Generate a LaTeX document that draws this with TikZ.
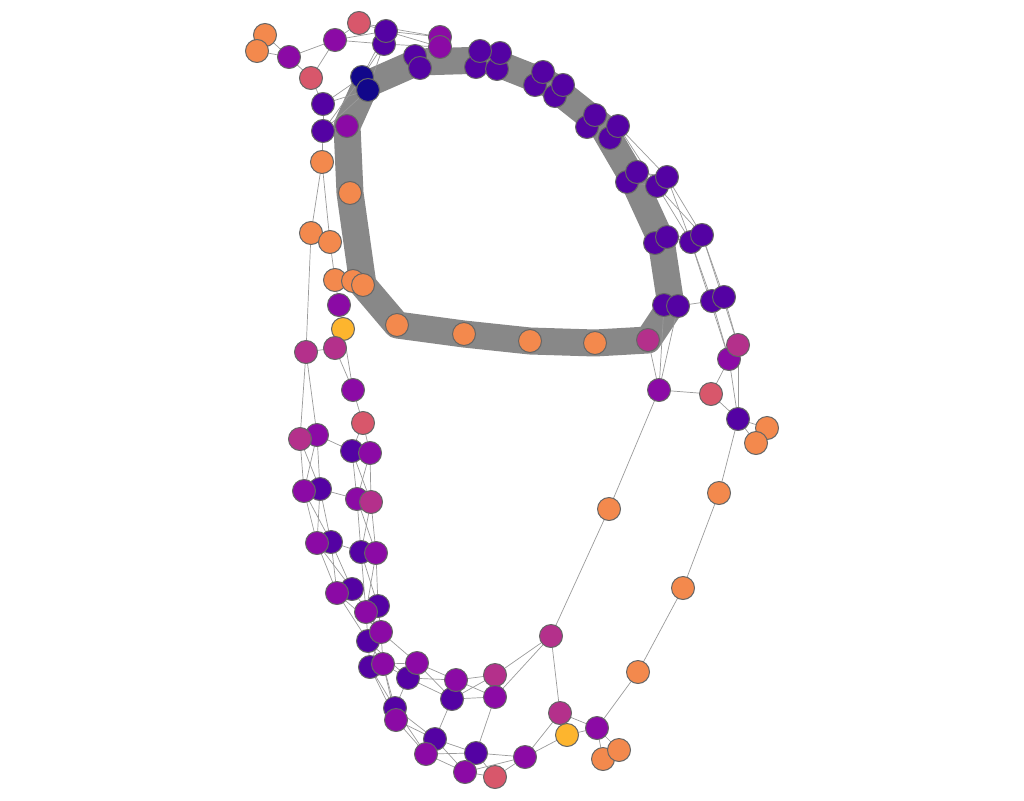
\documentclass[tikz,border=0pt]{standalone}
\usetikzlibrary{calc}
\definecolor{cO}{HTML}{F3894D}
\definecolor{cY}{HTML}{FDB52E}
\definecolor{cM}{HTML}{B4308B}
\definecolor{cR}{HTML}{D8576B}
\definecolor{cP}{HTML}{8B0AA5}
\definecolor{cD}{HTML}{5402A3}
\definecolor{cN}{HTML}{12078A}
\definecolor{rim}{HTML}{666666}
\definecolor{edgecol}{HTML}{9A9A9A}
\definecolor{bandcol}{HTML}{888888}
\tikzset{
  vtx/.style={circle,minimum size=23pt,inner sep=0pt,draw=rim,line width=1pt},
  O/.style={vtx,fill=cO}, Y/.style={vtx,fill=cY}, M/.style={vtx,fill=cM},
  R/.style={vtx,fill=cR}, P/.style={vtx,fill=cP}, D/.style={vtx,fill=cD},
  N/.style={vtx,fill=cN},
  thin edge/.style={draw=edgecol,line width=0.7pt},
  band/.style={draw=bandcol,line width=27pt,line join=round,line cap=round}
}
\begin{document}
\begin{tikzpicture}[x=1pt,y=-1pt]
\useasboundingbox (0,0) rectangle (1024,800);
% ---- coordinates of vertices (placed as nodes later) ----
\begin{scope}[every node/.style={}]
\path
(265,35) coordinate (p1) (257,51) coordinate (p2) (289,57) coordinate (p3)
(335,40) coordinate (p4) (359,23) coordinate (p5) (386,31) coordinate (p6)
(384,44) coordinate (p7) (311,78) coordinate (p8) (362,77) coordinate (p9)
(368,90) coordinate (p10) (323,104) coordinate (p11) (323,131) coordinate (p12)
(347,126) coordinate (p13) (322,162) coordinate (p14) (350,193) coordinate (p15)
(415,56) coordinate (p16) (420,68) coordinate (p17) (440,37) coordinate (p18)
(440,47) coordinate (p19) (480,51) coordinate (p20) (500,53) coordinate (p21)
(476,67) coordinate (p22) (497,69) coordinate (p23) (543,72) coordinate (p24)
(535,85) coordinate (p25) (563,85) coordinate (p26) (555,96) coordinate (p27)
(595,115) coordinate (p28) (587,127) coordinate (p29) (618,126) coordinate (p30)
(610,138) coordinate (p31) (637,172) coordinate (p32) (627,182) coordinate (p33)
(667,177) coordinate (p34) (657,186) coordinate (p35) (667,237) coordinate (p36)
(655,243) coordinate (p37) (702,235) coordinate (p38) (691,242) coordinate (p39)
(664,305) coordinate (p40) (678,306) coordinate (p41) (712,301) coordinate (p42)
(724,297) coordinate (p43) (648,340) coordinate (p44) (738,345) coordinate (p45)
(729,359) coordinate (p46) (659,390) coordinate (p47) (711,394) coordinate (p48)
(738,419) coordinate (p49) (767,428) coordinate (p50) (756,443) coordinate (p51)
(719,493) coordinate (p52) (609,509) coordinate (p53) (683,588) coordinate (p54)
(311,233) coordinate (p55) (330,242) coordinate (p56) (335,280) coordinate (p57)
(353,281) coordinate (p58) (363,285) coordinate (p59) (339,305) coordinate (p60)
(343,329) coordinate (p61) (306,352) coordinate (p62) (335,348) coordinate (p63)
(353,390) coordinate (p64) (397,325) coordinate (p65) (464,334) coordinate (p66)
(530,341) coordinate (p67) (595,343) coordinate (p68) (363,423) coordinate (p69)
(300,439) coordinate (p70) (317,435) coordinate (p71) (352,451) coordinate (p72)
(370,453) coordinate (p73) (304,491) coordinate (p74) (320,489) coordinate (p75)
(357,499) coordinate (p76) (371,502) coordinate (p77) (317,543) coordinate (p78)
(331,542) coordinate (p79) (361,552) coordinate (p80) (376,553) coordinate (p81)
(337,593) coordinate (p82) (352,589) coordinate (p83) (378,606) coordinate (p84)
(366,612) coordinate (p85) (368,641) coordinate (p86) (381,632) coordinate (p87)
(370,667) coordinate (p88) (383,664) coordinate (p89) (408,678) coordinate (p90)
(417,663) coordinate (p91) (456,680) coordinate (p92) (452,699) coordinate (p93)
(395,708) coordinate (p94) (396,720) coordinate (p95) (435,739) coordinate (p96)
(426,754) coordinate (p97) (476,753) coordinate (p98) (465,772) coordinate (p99)
(495,777) coordinate (p100) (525,757) coordinate (p101) (495,675) coordinate (p102)
(495,697) coordinate (p103) (551,636) coordinate (p104) (560,713) coordinate (p105)
(567,735) coordinate (p106) (597,728) coordinate (p107) (603,759) coordinate (p108)
(619,750) coordinate (p109) (638,672) coordinate (p110);
\end{scope}
% ---- thick bundle of ring edges ----
\draw[band] (p13) -- (p15) -- (p59) -- (p65) -- (p66) -- (p67) -- (p68) -- (p44)
  -- ($(p40)!.5!(p41)$) -- ($(p36)!.5!(p37)$) -- ($(p32)!.5!(p33)$)
  -- ($(p28)!.5!(p31)$) -- ($(p24)!.5!(p27)$) -- ($(p20)!.5!(p23)$)
  -- ($(p16)!.5!(p17)$) -- ($(p9)!.6!(p10)$) -- cycle;
% ---- thin edges ----
\foreach \a/\b in {1/3,2/3,1/2,3/4,3/8,4/5,4/8,5/6,4/6,4/7,6/18,7/19,6/19,5/18,
  8/11,11/9,11/10,11/12,12/10,12/9,7/9,7/10,6/9,12/14,12/13,
  14/55,14/56,55/62,56/57,57/58,57/60,60/61,61/63,63/62,63/64,61/64,64/69,
  62/70,62/71,
  70/74,70/75,71/74,71/75,74/78,74/79,75/78,75/79,78/82,78/83,79/82,79/83,
  71/72,75/76,79/80,
  69/72,69/73,72/76,72/77,73/76,73/77,76/80,76/81,77/80,77/81,80/85,80/84,81/85,81/84,
  82/86,83/87,82/87,85/87,85/86,84/87,84/86,
  86/88,86/89,87/88,87/89,87/91,86/90,89/90,89/91,
  88/94,88/95,89/94,89/95,90/94,
  91/92,91/93,90/92,90/93,92/102,92/103,93/102,93/103,102/104,103/104,
  104/53,53/47,104/105,103/98,93/96,
  94/96,95/96,94/97,95/97,96/98,97/99,97/98,96/99,
  98/101,99/101,99/100,100/101,98/100,101/105,101/106,105/107,106/107,
  107/108,107/109,108/109,107/110,110/54,54/52,52/49,49/50,49/51,50/51,48/49,
  47/48,47/44,47/40,47/41,48/46,41/42,45/49,46/49,
  30/34,30/35,32/34,33/35,34/38,35/39,34/39,35/38,36/39,36/38,
  39/42,38/43,39/46,38/45,42/46,43/45,42/43,45/46}
  \draw[thin edge] (p\a) -- (p\b);
% ---- vertices ----
\foreach \i/\s in {1/O,2/O,3/P,4/P,5/R,7/D,6/D,8/R,9/N,10/N,11/D,12/D,13/P,14/O,15/O,
  16/D,17/D,18/P,19/P,22/D,23/D,21/D,20/D,25/D,24/D,27/D,26/D,29/D,28/D,31/D,30/D,
  33/D,32/D,35/D,34/D,37/D,36/D,39/D,38/D,40/D,41/D,42/D,43/D,44/M,46/P,45/M,47/P,48/R,
  49/D,50/O,51/O,52/O,53/O,54/O,55/O,56/O,57/O,58/O,59/O,60/P,61/Y,62/M,63/M,64/P,
  65/O,66/O,67/O,68/O,69/R,71/P,70/M,72/D,73/P,75/D,74/P,76/P,77/M,79/D,78/P,80/D,81/P,
  83/D,82/P,84/D,85/P,86/D,87/P,88/D,89/P,90/D,91/P,93/D,92/P,94/D,95/P,96/D,97/P,
  98/D,99/P,100/R,101/P,102/M,103/P,104/M,105/M,106/Y,107/P,108/O,109/O,110/O}
  \node[\s] (n\i) at (p\i) {};
\end{tikzpicture}
\end{document}
